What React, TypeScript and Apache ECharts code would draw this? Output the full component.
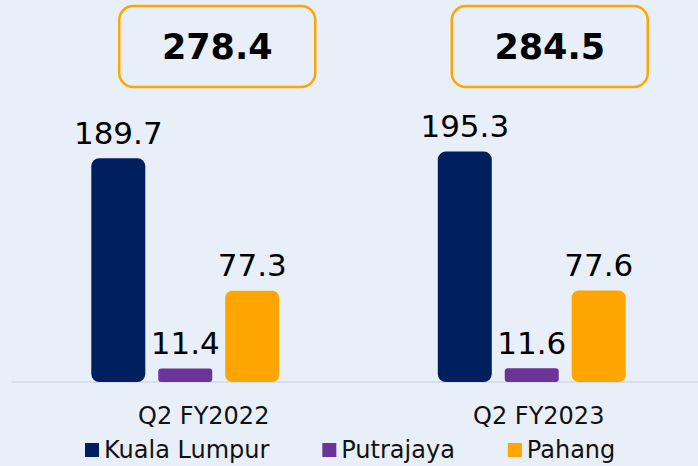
import React, { useEffect, useRef } from "react";
import * as echarts from "echarts";

const categories = ["Q2 FY2022", "Q2 FY2023"];
const kualaLumpur = [189.7, 195.3];
const putrajaya = [11.4, 11.6];
const pahang = [77.3, 77.6];
const totals = [278.4, 284.5];
const seriesNames = ["Kuala Lumpur", "Putrajaya", "Pahang"];

const FONT = "DejaVu Sans";
const BOX_SHIFT = [32, 18];

export default function App() {
  const ref = useRef<HTMLDivElement>(null);
  useEffect(() => {
    if (!ref.current) return;
    const chart = echarts.init(ref.current, null, { renderer: "svg" });
    const barLabel = {
      show: true,
      position: "top",
      distance: 10,
      fontSize: 31,
      fontFamily: FONT,
      color: "#000",
    };
    const barStyle = (color: string, r: number) => ({ color, borderRadius: r });
    chart.setOption({
      animation: false,
      backgroundColor: "#e9eff9",
      textStyle: { fontFamily: FONT },
      grid: {
        left: 12,
        top: 28,
        width: 693,
        bottom: 84,
        containLabel: false,
        outerBoundsMode: "none",
      },
      legend: {
        data: seriesNames,
        left: 80,
        top: 433,
        icon: "rect",
        itemWidth: 14,
        itemHeight: 14,
        itemGap: 53,
        textStyle: { fontSize: 24, fontFamily: FONT, color: "#111" },
      },
      xAxis: {
        type: "category",
        data: categories,
        axisLine: { show: true, lineStyle: { color: "#d6d9de", width: 1.5 } },
        axisTick: { show: false },
        axisLabel: {
          margin: 22,
          fontSize: 24,
          fontFamily: FONT,
          color: "#111",
          formatter: (v: string, i: number) => `{c${i}|${v}}`,
          rich: {
            c0: { fontSize: 24, fontFamily: FONT, color: "#111", padding: [0, 0, 0, 37] },
            c1: { fontSize: 24, fontFamily: FONT, color: "#111", padding: [0, 0, 0, 14] },
          },
        },
      },
      yAxis: {
        type: "value",
        min: 0,
        max: 300,
        show: false,
        splitLine: { show: false },
      },
      series: [
        {
          name: seriesNames[0],
          type: "bar",
          data: kualaLumpur,
          barWidth: 54,
          barGap: "24%",
          itemStyle: barStyle("#001f5f", 8),
          label: barLabel,
        },
        {
          name: seriesNames[1],
          type: "bar",
          data: putrajaya,
          barWidth: 54,
          barGap: "24%",
          itemStyle: barStyle("#6a3597", 3),
          label: barLabel,
        },
        {
          name: seriesNames[2],
          type: "bar",
          data: pahang,
          barWidth: 54,
          barGap: "24%",
          itemStyle: barStyle("#ffa500", 7),
          label: barLabel,
        },
        {
          name: "Total",
          type: "custom",
          data: totals.map((t, i) => [i, t]),
          encode: { x: 0, y: 1 },
          silent: true,
          renderItem: (params: any, api: any) => {
            const idx = api.value(0);
            const total = api.value(1);
            const cx = api.coord([idx, 0])[0] + BOX_SHIFT[idx];
            const w = 196;
            const h = 81;
            return {
              type: "group",
              children: [
                {
                  type: "rect",
                  shape: { x: cx - w / 2, y: 6, width: w, height: h, r: 14 },
                  style: { fill: "none", stroke: "#ffa500", lineWidth: 2.5 },
                },
                {
                  type: "text",
                  x: cx,
                  y: 6 + h / 2,
                  style: {
                    text: total.toFixed(1),
                    fontSize: 35,
                    fontWeight: "bold",
                    fontFamily: FONT,
                    fill: "#000",
                    align: "center",
                    verticalAlign: "middle",
                  },
                },
              ],
            };
          },
        },
      ],
    });
    return () => chart.dispose();
  }, []);
  return (
    <div
      ref={ref}
      style={{ position: "fixed", left: 0, top: 0, width: 698, height: 466 }}
    />
  );
}
